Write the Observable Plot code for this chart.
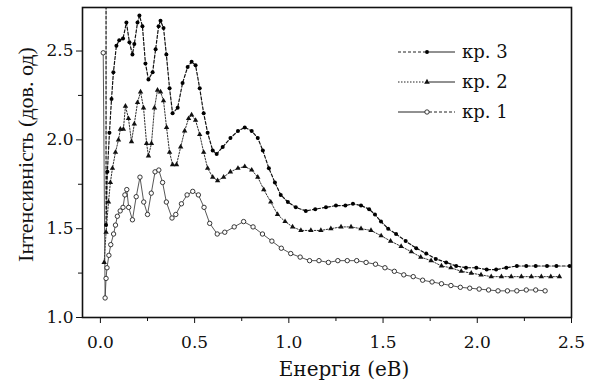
<!DOCTYPE html>
<html><head><meta charset="utf-8">
<script src="https://cdn.jsdelivr.net/npm/d3@7"></script>
<script src="https://cdn.jsdelivr.net/npm/@observablehq/plot@0.6"></script>
<style>
body{margin:0;background:#fff;}
#wrap{position:relative;width:591px;height:383px;}
#wrap svg{position:absolute;left:0;top:0;}
</style></head><body><div id="wrap"></div>
<script>
// curve 1 (кр. 1) — open circles
const e1 = [0.015,0.025,0.03,0.035,0.045,0.055,0.07,0.08,0.09,0.105,0.12,0.13,0.14,0.15,0.17,0.19,0.21,0.23,0.25,0.27,0.29,0.31,0.33,0.35,0.38,0.40,0.43,0.46,0.49,0.52,0.55,0.58,0.62,0.66,0.71,0.76,0.81,0.86,0.91,0.96,1.01,1.06,1.11,1.16,1.21,1.26,1.31,1.36,1.41,1.46,1.51,1.56,1.61,1.66,1.71,1.76,1.81,1.86,1.91,1.96,2.01,2.06,2.11,2.16,2.21,2.26,2.31,2.36];
const i1 = [2.49,1.11,1.22,1.28,1.35,1.41,1.47,1.52,1.57,1.60,1.62,1.69,1.72,1.62,1.55,1.68,1.79,1.65,1.58,1.70,1.82,1.83,1.76,1.65,1.56,1.58,1.64,1.69,1.71,1.69,1.62,1.53,1.47,1.48,1.51,1.54,1.51,1.47,1.43,1.39,1.36,1.34,1.32,1.32,1.31,1.32,1.32,1.32,1.31,1.30,1.28,1.26,1.24,1.23,1.21,1.20,1.19,1.18,1.17,1.165,1.16,1.155,1.15,1.15,1.15,1.155,1.155,1.15];
// curve 2 (кр. 2) — triangles
const e2 = [0.02,0.03,0.043,0.053,0.064,0.08,0.096,0.106,0.122,0.133,0.149,0.165,0.18,0.197,0.213,0.229,0.245,0.255,0.271,0.287,0.303,0.319,0.335,0.351,0.367,0.383,0.404,0.426,0.447,0.468,0.484,0.505,0.527,0.548,0.569,0.596,0.622,0.654,0.69,0.73,0.766,0.803,0.835,0.867,0.904,0.94,0.98,1.02,1.064,1.117,1.17,1.223,1.277,1.33,1.383,1.436,1.49,1.54,1.596,1.65,1.70,1.755,1.81,1.86,1.915,1.968,2.02,2.074,2.128,2.18,2.234,2.287,2.34,2.39,2.436];
const i2 = [1.31,1.48,1.65,1.76,1.84,1.93,2.00,2.06,2.06,2.19,2.12,1.99,2.09,2.21,2.27,2.18,1.98,1.91,1.98,2.18,2.28,2.27,2.22,2.07,1.93,1.86,1.86,1.96,2.05,2.12,2.14,2.11,2.03,1.93,1.84,1.79,1.77,1.79,1.82,1.84,1.85,1.83,1.79,1.72,1.65,1.58,1.54,1.51,1.49,1.49,1.49,1.50,1.51,1.51,1.50,1.49,1.46,1.43,1.40,1.37,1.34,1.32,1.29,1.28,1.26,1.25,1.24,1.23,1.23,1.23,1.23,1.23,1.23,1.23,1.23];
// curve 3 (кр. 3) — filled dots
const e3 = [0.03,0.03,0.037,0.048,0.059,0.069,0.085,0.10,0.12,0.138,0.154,0.17,0.18,0.197,0.207,0.223,0.239,0.255,0.277,0.293,0.309,0.319,0.335,0.35,0.367,0.383,0.41,0.436,0.463,0.484,0.505,0.527,0.548,0.569,0.596,0.617,0.649,0.69,0.73,0.766,0.803,0.835,0.862,0.894,0.926,0.957,0.995,1.037,1.09,1.14,1.197,1.25,1.30,1.34,1.383,1.426,1.457,1.489,1.527,1.569,1.62,1.676,1.729,1.78,1.835,1.888,1.94,1.995,2.05,2.10,2.154,2.21,2.26,2.31,2.37,2.42,2.49];
const i3 = [2.95,1.52,1.82,2.04,2.23,2.38,2.53,2.56,2.57,2.66,2.55,2.48,2.54,2.66,2.70,2.64,2.43,2.34,2.38,2.51,2.64,2.67,2.63,2.48,2.29,2.15,2.18,2.32,2.41,2.44,2.42,2.29,2.15,2.04,1.94,1.92,1.96,2.01,2.05,2.07,2.05,2.01,1.94,1.84,1.76,1.69,1.65,1.62,1.60,1.61,1.62,1.63,1.63,1.64,1.63,1.61,1.58,1.54,1.50,1.47,1.43,1.39,1.36,1.33,1.31,1.29,1.28,1.28,1.27,1.27,1.28,1.29,1.29,1.29,1.29,1.29,1.29];

const xTicks = [0, 0.5, 1.0, 1.5, 2.0, 2.5];
const xMinor = [0.25, 0.75, 1.25, 1.75, 2.25];
const yTicks = [1.0, 1.5, 2.0, 2.5];
const yMinor = [1.25, 1.75, 2.25];
const legendLabels = ["кр. 3", "кр. 2", "кр. 1"];
const xTitle = "Енергія (еВ)";
const yTitle = "Інтенсивність (дов. од)";

const rows = (e, v) => e.map((x, j) => ({x, y: v[j]}));
const c1 = rows(e1, i1), c2 = rows(e2, i2), c3 = rows(e3, i3);
const font = "DejaVu Serif";
const fmt = d3.format(".1f");

const chart = Plot.plot({
  width: 591, height: 383,
  marginLeft: 82, marginRight: 20, marginTop: 7, marginBottom: 66,
  style: {fontFamily: font, fontSize: "17px", color: "#111", background: "white"},
  x: {domain: [-0.095, 2.5]},
  y: {domain: [1.0, 2.745]},
  marks: [
    Plot.line(c1, {x: "x", y: "y", stroke: "#444", strokeWidth: 0.9, clip: true}),
    Plot.line(c2, {x: "x", y: "y", stroke: "#333", strokeWidth: 1, strokeDasharray: "1.5,1.5", clip: true}),
    Plot.line(c3, {x: "x", y: "y", stroke: "#111", strokeWidth: 1.2, strokeDasharray: "3,2", clip: true}),
    Plot.dot(c1, {x: "x", y: "y", r: 2.2, stroke: "#222", fill: "white", strokeWidth: 0.9, clip: true}),
    Plot.dot(c2, {x: "x", y: "y", symbol: "triangle", r: 2, fill: "#111", clip: true}),
    Plot.dot(c3, {x: "x", y: "y", r: 2, fill: "#000", clip: true}),
    Plot.axisX({ticks: xTicks, tickSize: 6, tickPadding: 12, tickFormat: fmt, label: null}),
    Plot.axisX({ticks: xMinor, tickSize: 4, tickFormat: () => "", label: null}),
    Plot.axisY({ticks: yTicks, tickSize: 6, tickPadding: 3, tickFormat: fmt, label: null}),
    Plot.axisY({ticks: yMinor, tickSize: 4, tickFormat: () => "", label: null}),
    Plot.frame({stroke: "#111", strokeWidth: 1.6}),
    Plot.text([xTitle], {frameAnchor: "bottom", lineAnchor: "middle", text: d => d, dx: 17, dy: 52, fontSize: 20}),
    Plot.text([yTitle], {frameAnchor: "left", textAnchor: "middle", text: d => d, rotate: -90, dx: -57, dy: -8, fontSize: 22})
  ]
});
d3.select(chart).selectAll("text").filter(function() { return this.textContent === yTitle; })
  .style("font-family", "'Liberation Serif', 'Times New Roman', serif");
const wrap = document.getElementById("wrap");
wrap.appendChild(chart);

// legend overlay
const lg = d3.select(wrap).append("svg").attr("width", 591).attr("height", 383)
  .style("pointer-events", "none").style("font-family", font);
const styles = [
  {left: "3,2", right: null, marker: "dot"},
  {left: "1.5,1.5", right: null, marker: "tri"},
  {left: null, right: "3,2", marker: "circle"}
];
legendLabels.forEach((lab, k) => {
  const y = 52 + 30 * k, s = styles[k];
  lg.append("line").attr("x1", 398).attr("x2", 425).attr("y1", y).attr("y2", y)
    .attr("stroke", "#222").attr("stroke-width", 1).attr("stroke-dasharray", s.left);
  lg.append("line").attr("x1", 429).attr("x2", 455).attr("y1", y).attr("y2", y)
    .attr("stroke", "#222").attr("stroke-width", 1).attr("stroke-dasharray", s.right);
  if (s.marker === "dot") lg.append("circle").attr("cx", 427).attr("cy", y).attr("r", 2).attr("fill", "#000");
  else if (s.marker === "tri") lg.append("path").attr("d", d3.symbol(d3.symbolTriangle, 14)()).attr("transform", `translate(427,${y})`).attr("fill", "#111");
  else lg.append("circle").attr("cx", 427).attr("cy", y).attr("r", 2.2).attr("fill", "white").attr("stroke", "#222").attr("stroke-width", 0.9);
  lg.append("text").attr("x", 462).attr("y", y).attr("dy", "0.35em").attr("font-size", 18).attr("fill", "#111").text(lab);
});
</script></body></html>
